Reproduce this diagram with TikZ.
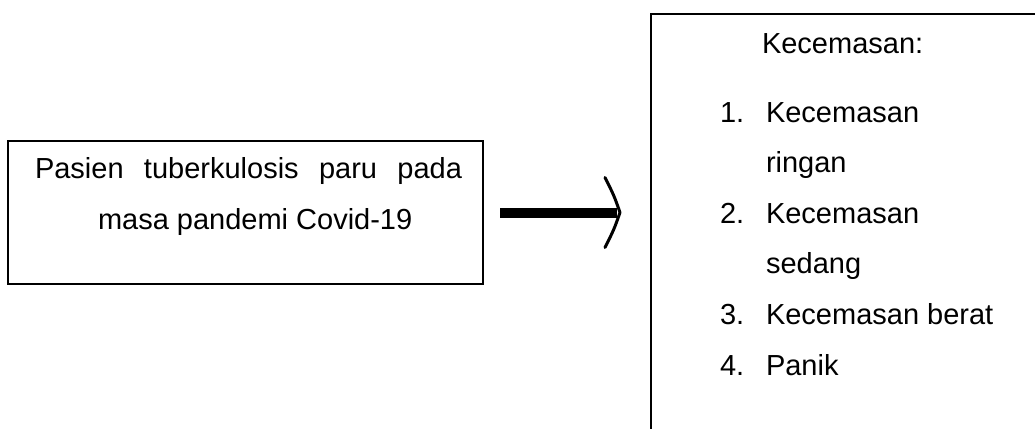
\documentclass[tikz,border=0pt]{standalone}
\usepackage{fontspec}
\setmainfont{Liberation Sans}
\begin{document}
\begin{tikzpicture}[x=1pt,y=-1pt,
  box/.style={draw=black, line width=2pt, inner sep=0pt, outer sep=0pt, anchor=north west},
  txt/.style={anchor=base west, inner sep=0pt, outer sep=0pt, font=\fontsize{29}{34}\selectfont}]
\useasboundingbox (0,0) rectangle (1035,428);
\node[box, minimum width=475pt, minimum height=143pt] (L) at (8,141) {};
\node[box, minimum width=440pt, minimum height=440pt] (R) at (651,14) {};
\node[txt] (l1) at (35,178) {\makebox[427pt][s]{Pasien tuberkulosis paru pada}};
\node[txt] (l2) at (98,229) {masa pandemi Covid-19};
\node[txt] (h) at (762,53) {Kecemasan:};
\node[txt] (n1) at (720,122) {1.};
\node[txt] (i1) at (766,122) {Kecemasan};
\node[txt] (i1b) at (766,172) {ringan};
\node[txt] (n2) at (720,223) {2.};
\node[txt] (i2) at (766,223) {Kecemasan};
\node[txt] (i2b) at (766,273) {sedang};
\node[txt] (n3) at (720,324) {3.};
\node[txt] (i3) at (766,324) {Kecemasan berat};
\node[txt] (n4) at (720,375) {4.};
\node[txt] (i4) at (766,375) {Panik};
\coordinate (s) at ([xshift=17pt]L.east);
\coordinate (e) at ([xshift=-31pt]R.west |- L.east);
\draw[line width=10pt] (s) -- ([xshift=-3pt]e);
\draw[line width=3pt, line cap=round, line join=round]
  ([shift={(-15,-35)}]e) .. controls ([shift={(-6,-17)}]e) .. (e)
  .. controls ([shift={(-6,17)}]e) .. ([shift={(-15,35)}]e);
\end{tikzpicture}
\end{document}
